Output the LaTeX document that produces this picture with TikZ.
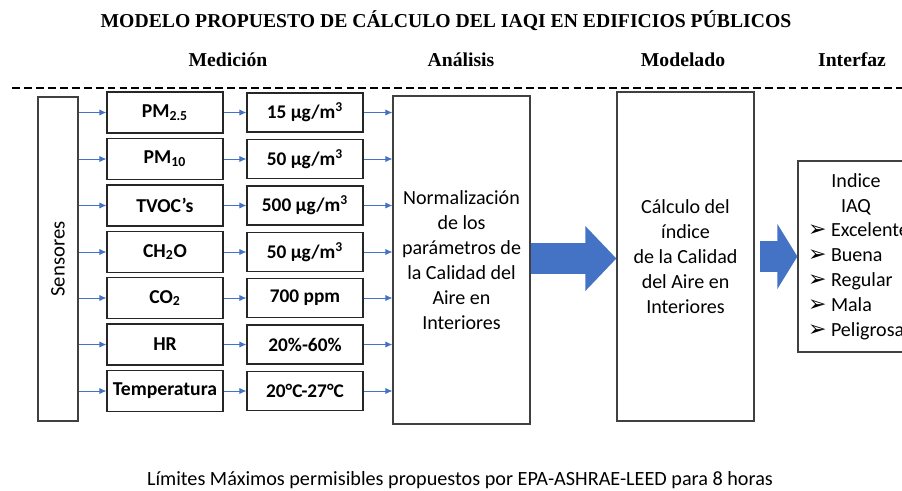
\documentclass[tikz,border=0pt]{standalone}
\usepackage{fontspec}
\setmainfont{Carlito}
\newfontfamily\titlefont{Liberation Serif}
\newfontfamily\symfont{DejaVu Sans}
\usetikzlibrary{arrows.meta}
\definecolor{azul}{HTML}{4472C4}
\definecolor{borde}{HTML}{404040}

\begin{document}
\begin{tikzpicture}[x=0.02cm,y=-0.02cm,
  caja/.style={draw=borde,line width=0.7pt,inner sep=0pt},
  param/.style={caja,draw=black!85,minimum width=2.32cm,minimum height=0.82cm,
    font=\fontsize{11.2}{13}\selectfont\bfseries},
  valor/.style={caja,draw=black!85,minimum width=2.32cm,minimum height=0.78cm,
    font=\fontsize{11}{13}\selectfont\bfseries},
  texto/.style={align=center,font=\fontsize{11.4}{14.2}\selectfont},
  encabezado/.style={font=\titlefont\bfseries\fontsize{11.2}{13}\selectfont},
  flecha/.style={azul,line width=0.5pt,-{Latex[length=4pt,width=3.5pt]}},
  flechona/.style={azul,line width=0.62cm}]
\useasboundingbox (0,0) rectangle (902,490);

\node[encabezado] (titulo) at (446,21) {MODELO PROPUESTO DE CÁLCULO DEL IAQI EN EDIFICIOS PÚBLICOS};
\node[encabezado] (medicion) at (228,60) {Medición};
\node[encabezado] (analisis) at (461,60) {Análisis};
\node[encabezado] (modelado) at (683,60) {Modelado};
\node[encabezado] (interfaz) at (852,60) {Interfaz};
\draw[dashed,line width=0.8pt,dash pattern=on 4.5pt off 2.3pt] (12,88) -- (902,88);

% sensores
\node[caja,minimum width=0.8cm,minimum height=6.48cm] (sens) at (58,259) {};
\node[texto,rotate=90,font=\fontsize{11.8}{14}\selectfont] (senslab) at (sens.center) {Sensores};

% parametros medidos
\node[param] (p1) at (165,112.5) {PM\textsubscript{2.5}};
\node[param] (p2) at (165,159) {PM\textsubscript{10}};
\node[param] (p3) at (165,205.5) {TVOC’s};
\node[param] (p4) at (165,252) {CH\textsubscript{2}O};
\node[param] (p5) at (165,298) {CO\textsubscript{2}};
\node[param] (p6) at (165,344.5) {HR};
\node[param] (p7) at (165,391) {Temperatura};

% limites
\node[valor] (v1) at (305,112.5) {15 µg/m\textsuperscript{3}};
\node[valor] (v2) at (305,159) {50 µg/m\textsuperscript{3}};
\node[valor] (v3) at (305,205.5) {500 µg/m\textsuperscript{3}};
\node[valor] (v4) at (305,252) {50 µg/m\textsuperscript{3}};
\node[valor] (v5) at (305,298) {700 ppm};
\node[valor] (v6) at (305,344.5) {20\%-60\%};
\node[valor] (v7) at (305,391) {20°C-27°C};

% analisis y modelado
\node[caja,texto,minimum width=2.74cm,minimum height=6.56cm] (norm) at (461.5,260)
  {Normalización\\de los\\parámetros de\\la Calidad del\\Aire en\\Interiores};
\node[caja,texto,minimum width=2.74cm,minimum height=6.58cm] (calc) at (685.5,256.5)
  {Cálculo del\\índice\\de la Calidad\\del Aire en\\Interiores};

% interfaz
\node[caja,minimum width=2.32cm,minimum height=3.82cm] (iaq) at (856,256.5) {};
\node[texto] (iaqtit) at (856,194.5) {Indice\\IAQ};
\node[texto,align=left,anchor=west] (iaqlista) at (802,281.5)
  {{\symfont\fontsize{12.5}{10}\selectfont ➢}\hspace{2.5pt}Excelente\\
   {\symfont\fontsize{12.5}{10}\selectfont ➢}\hspace{2.5pt}Buena\\
   {\symfont\fontsize{12.5}{10}\selectfont ➢}\hspace{2.5pt}Regular\\
   {\symfont\fontsize{12.5}{10}\selectfont ➢}\hspace{2.5pt}Mala\\
   {\symfont\fontsize{12.5}{10}\selectfont ➢}\hspace{2.5pt}Peligrosa};

% flechas
\draw[flecha] (sens.east |- p1.west) -- (p1.west);
\draw[flecha] (sens.east |- p2.west) -- (p2.west);
\draw[flecha] (sens.east |- p3.west) -- (p3.west);
\draw[flecha] (sens.east |- p4.west) -- (p4.west);
\draw[flecha] (sens.east |- p5.west) -- (p5.west);
\draw[flecha] (sens.east |- p6.west) -- (p6.west);
\draw[flecha] (sens.east |- p7.west) -- (p7.west);
\draw[flecha] (p1.east) -- (v1.west);
\draw[flecha] (p2.east) -- (v2.west);
\draw[flecha] (p3.east) -- (v3.west);
\draw[flecha] (p4.east) -- (v4.west);
\draw[flecha] (p5.east) -- (v5.west);
\draw[flecha] (p6.east) -- (v6.west);
\draw[flecha] (p7.east) -- (v7.west);
\draw[flecha] (v1.east) -- (norm.west |- v1.east);
\draw[flecha] (v2.east) -- (norm.west |- v2.east);
\draw[flecha] (v3.east) -- (norm.west |- v3.east);
\draw[flecha] (v4.east) -- (norm.west |- v4.east);
\draw[flecha] (v5.east) -- (norm.west |- v5.east);
\draw[flecha] (v6.east) -- (norm.west |- v6.east);
\draw[flecha] (v7.east) -- (norm.west |- v7.east);

\draw[flechona,-{Triangle[length=0.62cm,width=1.26cm]}] (norm.east |- 0,258.5) -- (calc.west |- 0,258.5);
\draw[flechona,-{Triangle[length=0.4cm,width=1.28cm]}] ([xshift=0.1cm]calc.east) -- (iaq.west);

\node[font=\fontsize{11.5}{13}\selectfont] (pie) at (460,480)
  {Límites Máximos permisibles propuestos por EPA-ASHRAE-LEED para 8 horas};
\end{tikzpicture}
\end{document}
